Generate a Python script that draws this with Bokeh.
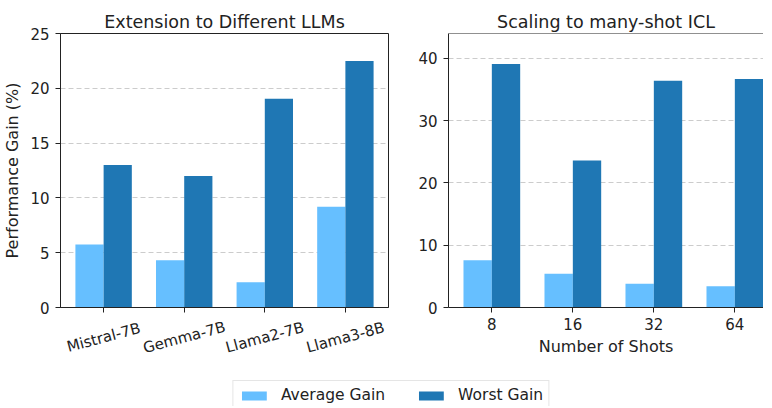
import math
import numpy as np
from bokeh.plotting import figure
from bokeh.models import Range1d, FixedTicker, Span, Legend, LegendItem
from bokeh.core.properties import value
from bokeh.layouts import row, column
from bokeh.embed import file_html
from bokeh.resources import INLINE

# ---- data ----
models = ["Mistral-7B", "Gemma-7B", "Llama2-7B", "Llama3-8B"]
llm_avg = [5.75, 4.3, 2.3, 9.2]
llm_worst = [13.0, 12.0, 19.05, 22.5]

shots = ["8", "16", "32", "64"]
shot_avg = [7.6, 5.4, 3.8, 3.4]
shot_worst = [39.1, 23.6, 36.4, 36.7]

left_yticks = [0, 5, 10, 15, 20, 25]
right_yticks = [0, 10, 20, 30, 40]

AVG_COLOR = "#66bfff"
WORST_COLOR = "#1f77b4"
FONT = "DejaVu Sans"
INK = "#222222"
TICK_FS = "15px"
LABEL_FS = "16px"
TOP = 33
FRAME_H = 274
BOTTOM = 62


def style_axes(p):
    for ax in (p.xaxis, p.yaxis):
        ax.axis_line_color = INK
        ax.major_tick_line_color = INK
        ax.major_tick_out = 5
        ax.major_tick_in = 0
        ax.minor_tick_line_color = None
        ax.major_label_text_font = FONT
        ax.major_label_text_font_size = TICK_FS
        ax.major_label_text_color = INK
        ax.axis_label_text_font = FONT
        ax.axis_label_text_font_size = LABEL_FS
        ax.axis_label_text_font_style = "normal"
        ax.axis_label_text_color = INK
    p.yaxis.major_label_standoff = 6
    p.xaxis.major_label_standoff = 5


def make_panel(title, cats, avg, worst, yend, yticks, frame_w, mb_left, mb_right,
               xend, mb_bottom, outline=True):
    p = figure(frame_width=frame_w, frame_height=FRAME_H, title=title,
               x_range=Range1d(-0.535, xend), y_range=Range1d(0, yend),
               output_backend="svg", toolbar_location=None,
               min_border_left=mb_left, min_border_right=mb_right,
               min_border_top=TOP, min_border_bottom=mb_bottom)
    x = np.arange(len(cats))
    p.vbar(x=x - 0.175, top=avg, width=0.35, fill_color=AVG_COLOR, line_color=None)
    p.vbar(x=x + 0.175, top=worst, width=0.35, fill_color=WORST_COLOR, line_color=None)

    p.title.text_font = FONT
    p.title.text_font_size = "17.5px"
    p.title.text_font_style = "normal"
    p.title.text_color = INK
    p.title.align = "center"
    p.title.standoff = 4

    p.xaxis.ticker = FixedTicker(ticks=list(range(len(cats))))
    p.yaxis.ticker = FixedTicker(ticks=yticks)
    style_axes(p)

    p.xgrid.visible = False
    p.ygrid.ticker = FixedTicker(ticks=yticks)
    p.ygrid.grid_line_color = "#cccccc"
    p.ygrid.grid_line_dash = "5 3"

    if outline:
        p.outline_line_color = INK
    else:
        p.outline_line_color = None
        p.add_layout(Span(location=yend, dimension="width", line_color=INK, line_width=1))
    return p


# ---- left panel (labels drawn in a strip below, centred & rotated) ----
LB = 10
p1 = make_panel("Extension to Different LLMs", models, llm_avg, llm_worst,
                25, left_yticks, 328, 54, 10, 3.535, LB)
p1.xaxis.major_label_overrides = {i: "" for i in range(len(models))}
p1.xaxis.major_label_text_font_size = "0px"
p1.xaxis.major_label_standoff = 0
p1.yaxis.axis_label = "Performance Gain (%)"
p1.yaxis.axis_label_standoff = 5

strip_h = BOTTOM - LB
LAB_OFF = 20
lab = figure(frame_width=328, height=strip_h, x_range=p1.x_range,
             y_range=Range1d(-(strip_h - LAB_OFF), LAB_OFF),
             output_backend="svg", toolbar_location=None,
             min_border_left=54, min_border_right=10, min_border_top=0, min_border_bottom=0)
lab.axis.visible = False
lab.grid.visible = False
lab.outline_line_color = None
lab.text(x=list(np.arange(len(models))), y=[0] * len(models), text=models,
         angle=math.radians(15), text_align="center", text_baseline="middle",
         text_font=value(FONT), text_font_size=value(TICK_FS), text_color=INK)

# ---- right panel ----
p2 = make_panel("Scaling to many-shot ICL", shots, shot_avg, shot_worst,
                44, right_yticks, 315, 50, 0, -0.535 + 315 / 81.0, BOTTOM, outline=False)
p2.xaxis.major_label_overrides = {i: c for i, c in enumerate(shots)}
p2.xaxis.axis_label = "Number of Shots"
p2.xaxis.axis_label_standoff = 4

# ---- legend strip ----
lf = figure(width=756, height=37, output_backend="svg", toolbar_location=None,
            x_range=Range1d(0, 1), y_range=Range1d(0, 1),
            min_border_left=25, min_border_right=0, min_border_top=0, min_border_bottom=0)
lf.axis.visible = False
lf.grid.visible = False
lf.outline_line_color = None
la = lf.vbar(x=[-5], top=[0], width=0.1, fill_color=AVG_COLOR, line_color=None)
lw = lf.vbar(x=[-5], top=[0], width=0.1, fill_color=WORST_COLOR, line_color=None)
legend = Legend(items=[LegendItem(label="Average Gain", renderers=[la]),
                       LegendItem(label="Worst Gain", renderers=[lw])],
                orientation="horizontal", location="top_center", margin=11,
                glyph_width=31, glyph_height=11, label_standoff=12, spacing=30,
                padding=5, label_text_font=FONT, label_text_font_size="15.5px",
                label_text_color=INK, border_line_color="#cccccc",
                background_fill_alpha=1.0)
lf.add_layout(legend, "center")

layout = column(row(column(p1, lab), p2), lf)
open("out.html", "w").write(file_html(layout, INLINE))
